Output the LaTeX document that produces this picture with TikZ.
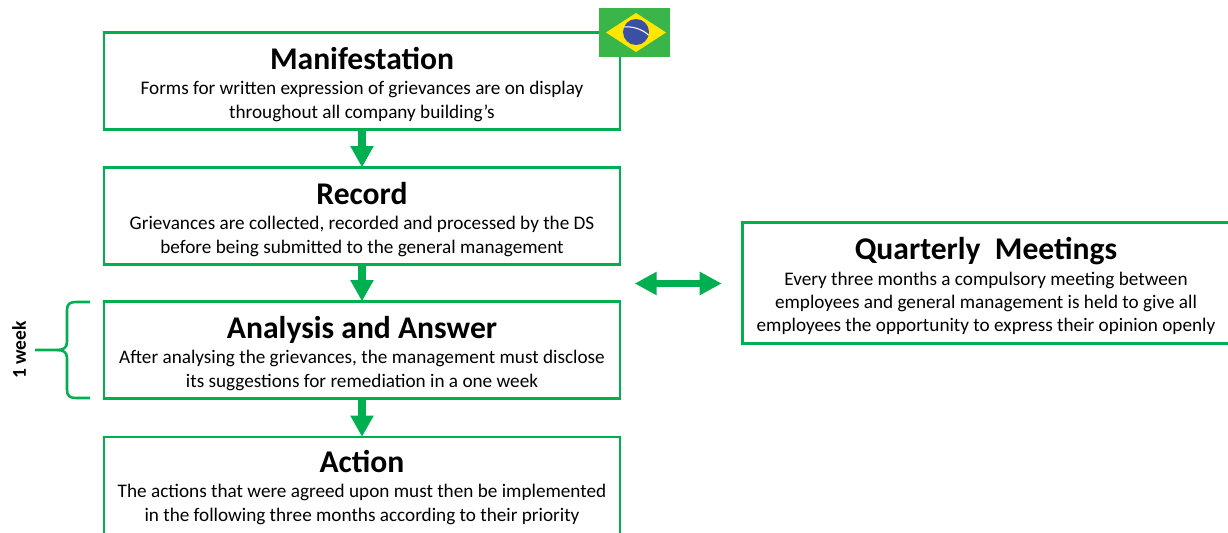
\documentclass[tikz,border=0pt]{standalone}
\usepackage{fontspec}
\setmainfont{Carlito}
\usetikzlibrary{arrows.meta}
\definecolor{stagegreen}{HTML}{00B050}
\definecolor{flaggreen}{HTML}{39B54A}
\definecolor{flagyellow}{HTML}{FFE600}
\definecolor{flagblue}{HTML}{3B4FA3}
\newcommand{\stagetext}[3]{\rule{0pt}{21.5pt}{\fontsize{23.7}{26}\selectfont\bfseries #1}\\[1.5pt]#2\\#3}
\tikzset{
  stage/.style={draw=stagegreen,line width=1.8pt,fill=white,align=center,inner sep=0pt,outer sep=0pt,
    minimum width=387pt,minimum height=73pt,font=\fontsize{14.4}{17.6}\selectfont},
  talk/.style={stage,minimum width=365pt,minimum height=91pt},
  flow/.style={draw=stagegreen,line width=5.5pt,-{Triangle[length=16pt,width=16.5pt]}},
  both/.style={draw=stagegreen,line width=5.5pt,{Triangle[length=16.5pt,width=16.5pt]}-{Triangle[length=16.5pt,width=16.5pt]}},
  span/.style={draw=stagegreen,line width=1.9pt}
}
\begin{document}
\begin{tikzpicture}[x=0.75pt,y=-0.75pt]
  \useasboundingbox (0,0) rectangle (1228,532);
  \draw
    (362,81) node[stage] (manifestation){\stagetext{Manifestation}{Forms for written expression of grievances are on display}{throughout all company building’s}}
    (362,216) node[stage] (record){\stagetext{Record}{Grievances are collected, recorded and processed by the DS}{before being submitted to the general management}}
    (362,350) node[stage] (analysis){\stagetext{Analysis and Answer}{After analysing the grievances, the management must disclose}{its suggestions for remediation in a one week}}
    (362,485.5) node[stage] (action){\stagetext{Action}{The actions that were agreed upon must then be implemented}{in the following three months according to their priority\rule[-4.5pt]{0pt}{4.5pt}}}
    (986,283) node[talk] (meetings){\stagetext{Quarterly\ \ Meetings}{Every three months a compulsory meeting between}{employees and general management is held to give all}\\employees the opportunity to express their opinion openly}
    (19,350) node[rotate=90,font=\fontsize{14.6}{17}\selectfont\bfseries] (week){1 week};
  \begin{scope}[flow]
    \draw (manifestation) to (record);
    \draw (record) to (analysis);
    \draw (analysis) to (action);
  \end{scope}
  % left and right ends of the double arrow
  \coordinate (talkleft) at (634.7,283.5);
  \coordinate (talkright) at (721.7,283.5);
  \draw[both] (talkleft) to (talkright);
  % brace
  \coordinate (bracetop) at (90,302);
  \coordinate (bracebottom) at (90,398);
  \coordinate (bracetip) at (35,350);
  \draw[span] (bracetop) -- (76,302) .. controls (70,302) and (67,304) .. (67,310)
    -- (67,342) .. controls (67,348) and (63,350) .. (57,350) -- (bracetip);
  \draw[span] (bracebottom) -- (76,398) .. controls (70,398) and (67,396) .. (67,390)
    -- (67,358) .. controls (67,352) and (63,350) .. (57,350);
  % flag
  \fill[flaggreen] (599,8) rectangle (670,57);
  \fill[flagyellow] (606,32.5) -- (636,13) -- (666,32.5) -- (636,52) -- cycle;
  \fill[flagblue] (636,32) circle [radius=13];
  \draw[white,line width=0.8pt] (623.5,27) .. controls (632,26) and (642,29) .. (648.5,35);
\end{tikzpicture}
\end{document}
